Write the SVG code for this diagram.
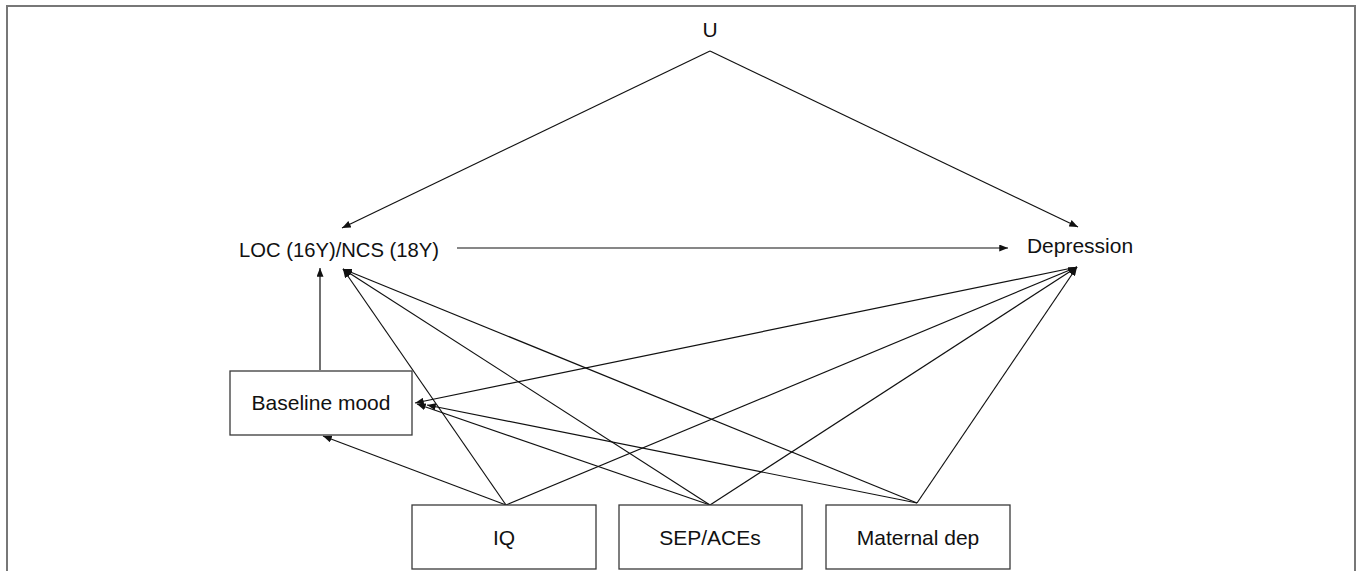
<svg xmlns="http://www.w3.org/2000/svg" width="1357" height="571" viewBox="0 0 1357 571">
<style>
text{font-family:"Liberation Sans",Arial,sans-serif;font-size:21px;fill:#111;text-anchor:middle}
.box{fill:#fff;stroke:#3a3a3a;stroke-width:1.3}
.c line{stroke:#111;stroke-width:1.2;marker-end:url(#ah)}
</style>
<defs>
<marker id="ah" viewBox="0 0 10 8" refX="10" refY="4" markerWidth="9" markerHeight="7" orient="auto" markerUnits="userSpaceOnUse">
<path d="M0,0 L10,4 L0,8 z" fill="#111"/>
</marker>
</defs>
<rect width="1357" height="571" fill="#fff"/>
<path d="M7,571 V6 H1355 V571" fill="none" stroke="#777" stroke-width="2"/>
<g class="c" id="connectors">
<line x1="710" y1="51" x2="342" y2="228"/>
<line x1="710" y1="51" x2="1078" y2="227"/>
<line x1="457" y1="248" x2="1008" y2="248"/>
<line x1="320" y1="370" x2="320" y2="268"/>
<line x1="506" y1="505" x2="343" y2="269"/>
<line x1="710" y1="505" x2="343" y2="269"/>
<line x1="917" y1="503" x2="343" y2="269"/>
<line x1="506" y1="505" x2="1077" y2="267"/>
<line x1="710" y1="505" x2="1077" y2="267"/>
<line x1="917" y1="503" x2="1077" y2="267"/>
<line x1="1077" y1="267" x2="415" y2="403"/>
<line x1="710" y1="505" x2="417" y2="404"/>
<line x1="917" y1="503" x2="427" y2="405"/>
<line x1="506" y1="505" x2="323" y2="436"/>
</g>
<g id="node-u"><text x="710" y="37">U</text></g>
<g id="node-loc"><text x="339" y="257" textLength="200" lengthAdjust="spacingAndGlyphs">LOC (16Y)/NCS (18Y)</text></g>
<g id="node-depression"><text x="1080" y="253">Depression</text></g>
<g id="node-baseline"><rect class="box" x="230" y="371" width="182" height="64"/><text x="321" y="410">Baseline mood</text></g>
<g id="node-iq"><rect class="box" x="412" y="505" width="184" height="64"/><text x="504" y="545">IQ</text></g>
<g id="node-sep"><rect class="box" x="619" y="505" width="183" height="64"/><text x="710" y="545">SEP/ACEs</text></g>
<g id="node-maternal"><rect class="box" x="826" y="505" width="184" height="64"/><text x="918" y="545">Maternal dep</text></g>
</svg>
